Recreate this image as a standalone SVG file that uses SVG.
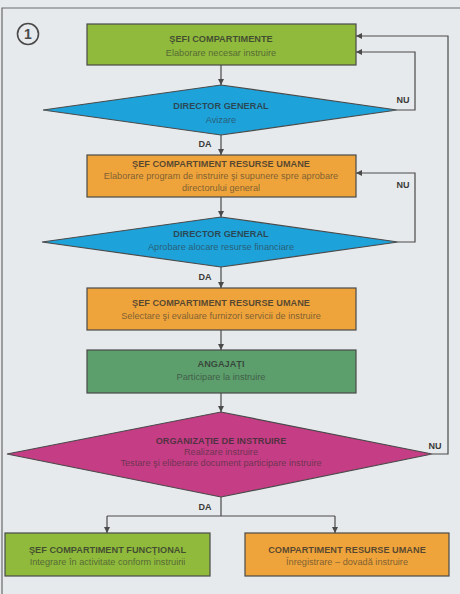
<svg xmlns="http://www.w3.org/2000/svg" width="460" height="594" viewBox="0 0 460 594">
<defs>
<marker id="ah" viewBox="0 0 10 10" refX="10" refY="5" markerWidth="6" markerHeight="6" markerUnits="userSpaceOnUse" orient="auto">
<path d="M0,0 L10,5 L0,10 z" fill="#4a4a4a"/>
</marker>
</defs>
<style>
.bg{fill:#e7eaec}
.frame{fill:none;stroke:#6a6a6a;stroke-width:1.2}
.node{stroke:#4a4a4a;stroke-width:1.2}
.lg{fill:#8fba3c}
.or{fill:#eea43a}
.bl{fill:#1ea2da}
.dg{fill:#5c9e6c}
.mg{fill:#c53d84}
.t{font-family:"Liberation Sans",Arial,sans-serif;font-size:9.2px;font-weight:bold;fill:#2e2e2e;fill-opacity:0.78;text-anchor:middle}
.s{font-family:"Liberation Sans",Arial,sans-serif;font-size:9.2px;fill:#2e2e2e;fill-opacity:0.6;text-anchor:middle}
.lbl{font-family:"Liberation Sans",Arial,sans-serif;font-size:9px;font-weight:bold;fill:#3a3a3a;text-anchor:middle}
.c{fill:none;stroke:#4a4a4a;stroke-width:1.2}
</style>
<rect class="bg" x="0" y="0" width="460" height="594"/>
<path class="frame" d="M2,594 L2,8 L460,8"/>
<g id="badge">
<circle cx="28" cy="34" r="10.5" fill="none" stroke="#4a4a4a" stroke-width="1.6"/>
<text x="28" y="39" font-family="'Liberation Sans',Arial,sans-serif" font-size="14" font-weight="bold" fill="#4a4a4a" text-anchor="middle">1</text>
</g>
<g id="connectors">
<path class="c" d="M221,65 L221,85" marker-end="url(#ah)"/>
<path class="c" d="M221,135 L221,155" marker-end="url(#ah)"/>
<path class="c" d="M397,110 L415,110 L415,52 L356,52" marker-end="url(#ah)"/>
<path class="c" d="M221,197 L221,217" marker-end="url(#ah)"/>
<path class="c" d="M398,242 L415,242 L415,173 L356,173" marker-end="url(#ah)"/>
<path class="c" d="M221,267 L221,288" marker-end="url(#ah)"/>
<path class="c" d="M221,330 L221,350" marker-end="url(#ah)"/>
<path class="c" d="M221,393 L221,412" marker-end="url(#ah)"/>
<path class="c" d="M432,454 L448,454 L448,36 L356,36" marker-end="url(#ah)"/>
<path class="c" d="M221,497 L221,516"/>
<path class="c" d="M107,516 L335,516"/>
<path class="c" d="M107,516 L107,533" marker-end="url(#ah)"/>
<path class="c" d="M335,516 L335,533" marker-end="url(#ah)"/>
<text class="lbl" x="205" y="147">DA</text>
<text class="lbl" x="205" y="280">DA</text>
<text class="lbl" x="205" y="510">DA</text>
<text class="lbl" x="403" y="103">NU</text>
<text class="lbl" x="403" y="188">NU</text>
<text class="lbl" x="435" y="449">NU</text>
</g>
<g id="n1">
<rect class="node lg" x="87" y="24" width="269" height="41"/>
<text class="t" x="221" y="42">ŞEFI COMPARTIMENTE</text>
<text class="s" x="221" y="56">Elaborare necesar instruire</text>
</g>
<g id="n2">
<polygon class="node bl" points="221,85 397,110 221,135 43,110"/>
<text class="t" x="221" y="109">DIRECTOR GENERAL</text>
<text class="s" x="221" y="123">Avizare</text>
</g>
<g id="n3">
<rect class="node or" x="87" y="155" width="269" height="42"/>
<text class="t" x="221" y="167">ŞEF COMPARTIMENT RESURSE UMANE</text>
<text class="s" x="221" y="179">Elaborare program de instruire şi supunere spre aprobare</text>
<text class="s" x="221" y="191">directorului general</text>
</g>
<g id="n4">
<polygon class="node bl" points="221,217 398,242 221,267 42,242"/>
<text class="t" x="221" y="237">DIRECTOR GENERAL</text>
<text class="s" x="221" y="250">Aprobare alocare resurse financiare</text>
</g>
<g id="n5">
<rect class="node or" x="87" y="288" width="269" height="42"/>
<text class="t" x="221" y="306">ŞEF COMPARTIMENT RESURSE UMANE</text>
<text class="s" x="221" y="319">Selectare şi evaluare furnizori servicii de instruire</text>
</g>
<g id="n6">
<rect class="node dg" x="87" y="350" width="269" height="43"/>
<text class="t" x="221" y="367">ANGAJAŢI</text>
<text class="s" x="221" y="380">Participare la instruire</text>
</g>
<g id="n7">
<polygon class="node mg" points="221,412 432,454 221,497 7,454"/>
<text class="t" x="221" y="444">ORGANIZAŢIE DE INSTRUIRE</text>
<text class="s" x="221" y="455">Realizare instruire</text>
<text class="s" x="221" y="466">Testare şi eliberare document participare instruire</text>
</g>
<g id="n8">
<rect class="node lg" x="5" y="533" width="205" height="43"/>
<text class="t" x="107.5" y="553">ŞEF COMPARTIMENT FUNCŢIONAL</text>
<text class="s" x="107.5" y="565">Integrare în activitate conform instruirii</text>
</g>
<g id="n9">
<rect class="node or" x="245" y="533" width="204" height="43"/>
<text class="t" x="347" y="553">COMPARTIMENT RESURSE UMANE</text>
<text class="s" x="347" y="565">Înregistrare – dovadă instruire</text>
</g>
</svg>
